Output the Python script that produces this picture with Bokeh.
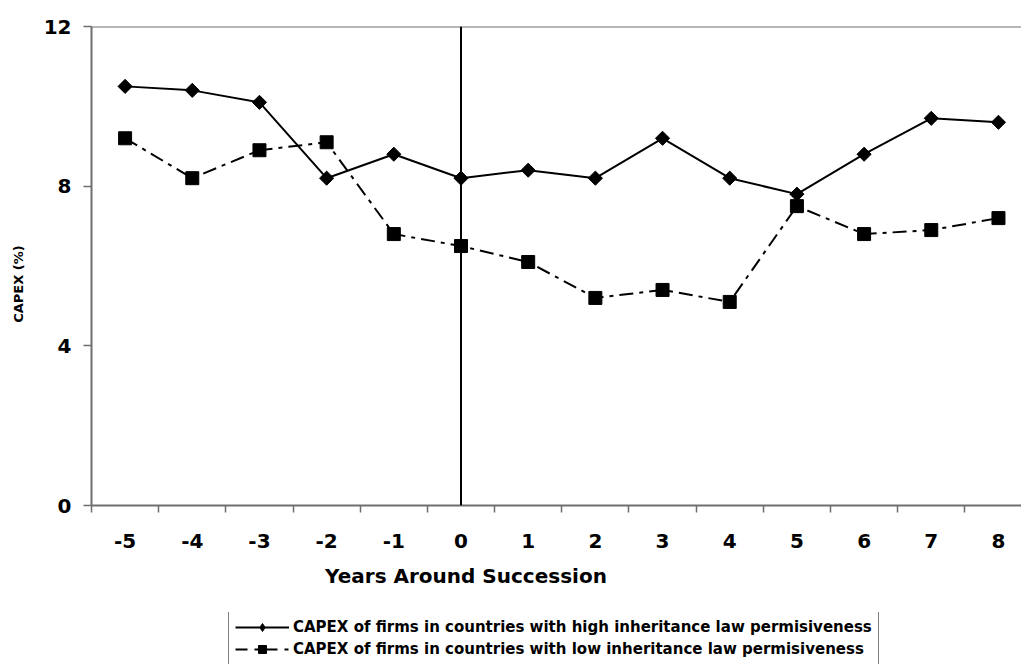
import numpy as np
from bokeh.plotting import figure
from bokeh.layouts import column
from bokeh.models import FixedTicker, Span, Legend, LegendItem, Range1d
from bokeh.embed import file_html
from bokeh.resources import INLINE

# ---- data ----
years = [-5, -4, -3, -2, -1, 0, 1, 2, 3, 4, 5, 6, 7, 8]
capex_high = [10.5, 10.4, 10.1, 8.2, 8.8, 8.2, 8.4, 8.2, 9.2, 8.2, 7.8, 8.8, 9.7, 9.6]
capex_low = [9.2, 8.2, 8.9, 9.1, 6.8, 6.5, 6.1, 5.2, 5.4, 5.1, 7.5, 6.8, 6.9, 7.2]
y_ticks = [0, 4, 8, 12]
x_tick_labels = ["-5", "-4", "-3", "-2", "-1", "0", "1", "2", "3", "4", "5", "6", "7", "8"]
succession_year = 0
label_high = "CAPEX of firms in countries with high inheritance law permisiveness"
label_low = "CAPEX of firms in countries with low inheritance law permisiveness"
x_title = "Years Around Succession"
y_title = "CAPEX (%)"

FONT = "DejaVu Sans"
AXIS_GRAY = "#6e6e6e"
HIGH_STYLE = dict(line_color="black", line_width=2)
LOW_STYLE = dict(line_color="black", line_width=2, line_dash="14 6 4 6")

p = figure(width=1021, height=612, output_backend="svg", toolbar_location=None,
           x_range=Range1d(years[0] - 0.5, years[-1] + 0.343),
           y_range=Range1d(y_ticks[0], y_ticks[-1]),
           min_border_left=91, min_border_top=26, min_border_right=0,
           min_border_bottom=107)
p.outline_line_color = None
p.grid.grid_line_color = None
p.background_fill_color = "white"
p.border_fill_color = "white"

# x axis: labels at integers, ticks between categories
xa = p.xaxis[0]
xa.ticker = FixedTicker(ticks=years, minor_ticks=[y - 0.5 for y in years] + [years[-1] + 0.5])
xa.major_label_overrides = {yr: lab for yr, lab in zip(years, x_tick_labels)}
xa.major_tick_out = 0
xa.major_tick_in = 0
xa.minor_tick_out = 7
xa.minor_tick_in = 0
xa.minor_tick_line_color = AXIS_GRAY
xa.minor_tick_line_width = 1.5
xa.axis_line_color = AXIS_GRAY
xa.axis_line_width = 2
xa.major_label_text_font = FONT
xa.major_label_text_font_style = "bold"
xa.major_label_text_font_size = "20px"
xa.major_label_text_color = "black"
xa.major_label_standoff = 21
# trailing no-break spaces shift the centred title left, as in the reference
xa.axis_label = x_title + "\u00a0" * 26
xa.axis_label_text_font = FONT
xa.axis_label_text_font_style = "bold"
xa.axis_label_text_font_size = "20px"
xa.axis_label_text_color = "black"
xa.axis_label_standoff = 13

ya = p.yaxis[0]
ya.ticker = FixedTicker(ticks=y_ticks, minor_ticks=[])
ya.major_tick_out = 8
ya.major_tick_in = 0
ya.major_tick_line_color = AXIS_GRAY
ya.major_tick_line_width = 1.5
ya.axis_line_color = AXIS_GRAY
ya.axis_line_width = 2
ya.major_label_text_font = FONT
ya.major_label_text_font_style = "bold"
ya.major_label_text_font_size = "20px"
ya.major_label_text_color = "black"
ya.major_label_standoff = 12
ya.axis_label = y_title + "\u00a0" * 8
ya.axis_label_text_font = FONT
ya.axis_label_text_font_style = "bold"
ya.axis_label_text_font_size = "13px"
ya.axis_label_text_color = "black"
ya.axis_label_standoff = 15

# top border of the plot area
p.add_layout(Span(location=y_ticks[-1], dimension="width", line_color=AXIS_GRAY, line_width=2))
# succession marker
p.add_layout(Span(location=succession_year, dimension="height", line_color="black", line_width=2))

p.line(years, capex_high, **HIGH_STYLE)
p.scatter(years, capex_high, marker="square", angle=np.pi / 4, size=10,
          fill_color="black", line_color="black")
p.line(years, capex_low, **LOW_STYLE)
p.scatter(years, capex_low, marker="square", size=13, fill_color="black", line_color="black")

# legend strip below the chart (its own renderers sit outside its visible range)
lg = figure(width=1021, height=52, output_backend="svg", toolbar_location=None,
            x_range=Range1d(100, 101), y_range=Range1d(100, 101),
            x_axis_type=None, y_axis_type=None,
            min_border_left=0, min_border_right=0, min_border_top=0, min_border_bottom=0)
lg.outline_line_color = None
lg.grid.grid_line_color = None
lg.border_fill_color = "white"
lh = lg.line(years, capex_high, **HIGH_STYLE)
mh = lg.scatter(years, capex_high, marker="diamond", size=12, fill_color="black", line_color="black")
ll = lg.line(years, capex_low, line_color="black", line_width=2, line_dash="12 7 4 7")
ml = lg.scatter(years, capex_low, marker="square", size=8, fill_color="black", line_color="black")

legend = Legend(items=[LegendItem(label=label_high, renderers=[lh, mh]),
                       LegendItem(label=label_low, renderers=[ll, ml])],
                location=(137, -2))
legend.border_line_color = "black"
legend.border_line_width = 1
legend.background_fill_color = "white"
legend.background_fill_alpha = 1
legend.label_text_font = FONT
legend.label_text_font_style = "bold"
legend.label_text_font_size = "15px"
legend.label_text_color = "black"
legend.glyph_width = 54
legend.glyph_height = 20
legend.label_height = 20
legend.label_standoff = 4
legend.padding = 6
legend.spacing = 2
legend.margin = 0
lg.add_layout(legend)

layout = column(p, lg, spacing=0)
open("out.html", "w").write(file_html(layout, INLINE))
